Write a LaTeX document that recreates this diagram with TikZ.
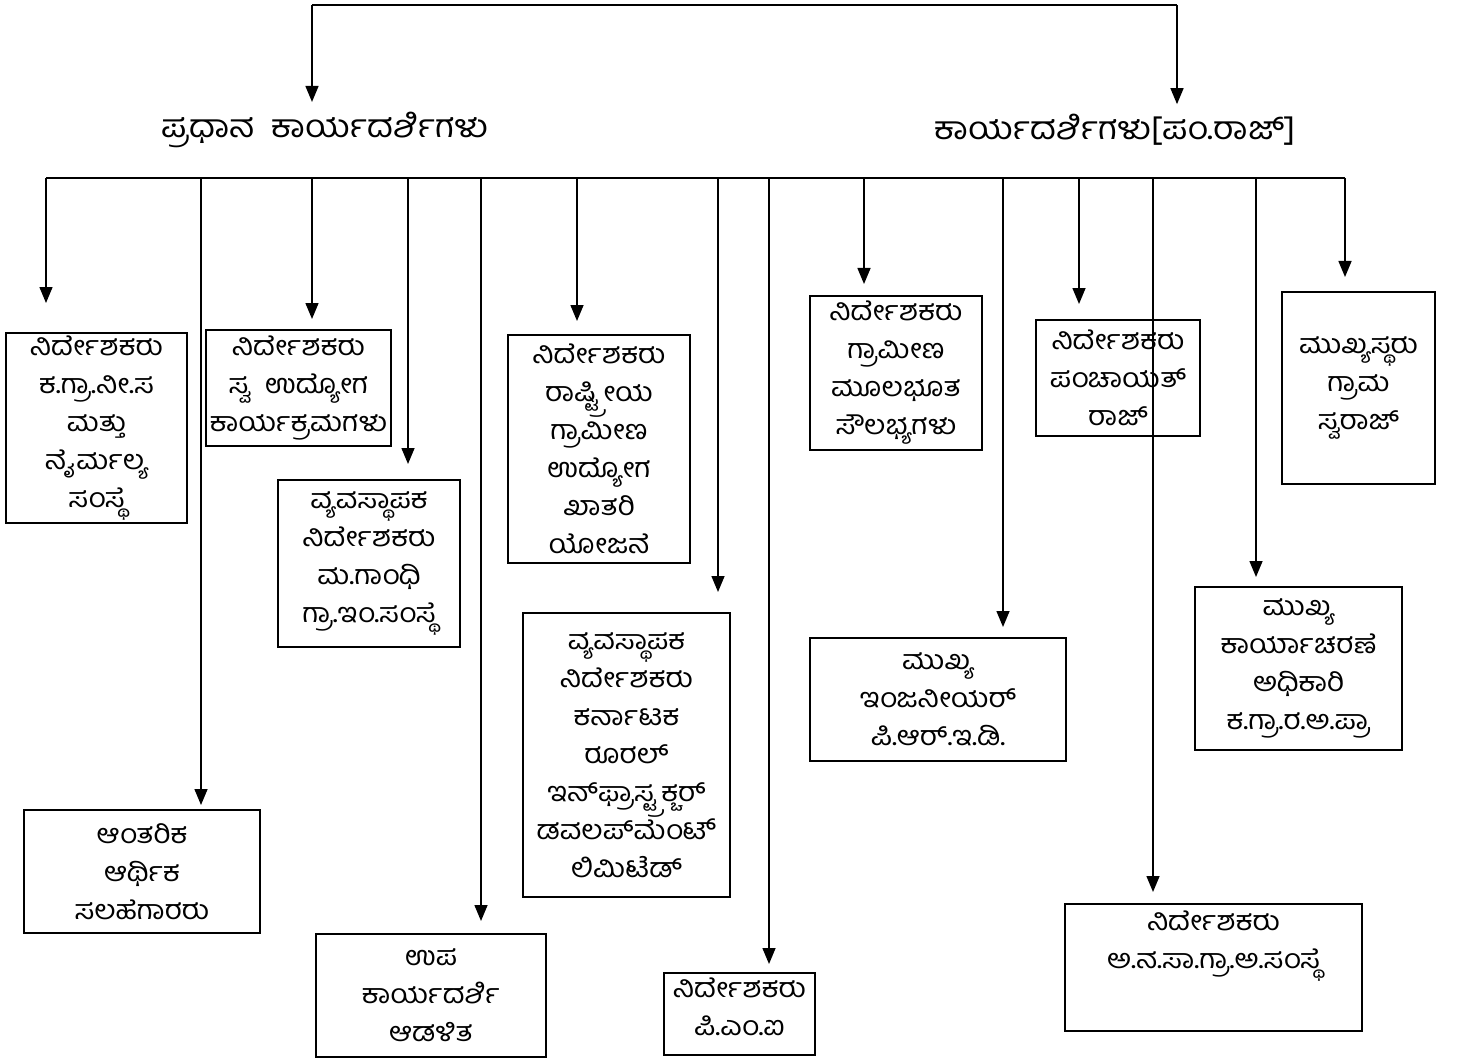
\documentclass[tikz,border=0pt]{standalone}
\usepackage{fontspec}
\newfontfamily\kan[Script=Kannada, FakeStretch=1.1]{Hind Mysuru}
\usepackage{tikz}
\usetikzlibrary{arrows.meta}
\usetikzlibrary{positioning}
\tikzset{>={Triangle[length=16pt,width=13pt]}}
\tikzstyle{unit} = [rectangle, draw=black, line width=2pt, align=center, inner sep=0pt, font=\kan\fontsize{27}{38}\selectfont]
\tikzstyle{head} = [draw=none, inner sep=0pt, font=\kan\fontsize{32}{38}\selectfont]
\tikzstyle{conn} = [->, draw=black, line width=1.5pt]

\begin{document}
\begin{tikzpicture}[x=1pt, y=-1pt]
\useasboundingbox (0,0) rectangle (1458,1059);
% top level
\node [head] (pradhana) at (325,130) {ಪ್ರಧಾನ\ \ ಕಾರ್ಯದರ್ಶಿಗಳು};
\node [head] (karya) at (1115,130) {ಕಾರ್ಯದರ್ಶಿಗಳು[ಪಂ.ರಾಜ್]};
\coordinate (top-l) at (312,5);
\coordinate (top-r) at (1177,5);
\draw [line width=2pt] (top-l) -- (top-r);
\draw [conn, shorten >=10pt] (top-l) -- (top-l |- pradhana.north);
\draw [conn, shorten >=10pt] (top-r) -- (top-r |- karya.north);
% boxes
\node [unit, minimum width=181pt, minimum height=190pt] (kgn) at (96.5,428) {ನಿರ್ದೇಶಕರು\\ಕ.ಗ್ರಾ.ನೀ.ಸ\\ಮತ್ತು\\ನೈರ್ಮಲ್ಯ\\ಸಂಸ್ಥೆ};
\node [unit, minimum width=185pt, minimum height=116pt] (swa) at (298.5,388) {ನಿರ್ದೇಶಕರು\\ಸ್ವ\ \ ಉದ್ಯೋಗ\\ಕಾರ್ಯಕ್ರಮಗಳು};
\node [unit, minimum width=182pt, minimum height=167pt] (mgn) at (369,563.5) {ವ್ಯವಸ್ಥಾಪಕ\\ನಿರ್ದೇಶಕರು\\ಮ.ಗಾಂಧಿ\\ಗ್ರಾ.ಇಂ.ಸಂಸ್ಥೆ};
\node [unit, minimum width=182pt, minimum height=228pt] (nrega) at (599,449) {ನಿರ್ದೇಶಕರು\\ರಾಷ್ಟ್ರೀಯ\\ಗ್ರಾಮೀಣ\\ಉದ್ಯೋಗ\\ಖಾತರಿ\\ಯೋಜನೆ};
\node [unit, minimum width=207pt, minimum height=284pt] (krid) at (626.5,755) {ವ್ಯವಸ್ಥಾಪಕ\\ನಿರ್ದೇಶಕರು\\ಕರ್ನಾಟಕ\\ರೂರಲ್\\ಇನ್‌ಫ್ರಾಸ್ಟ್ರಕ್ಚರ್\\ಡವಲಪ್‌ಮೆಂಟ್\\ಲಿಮಿಟೆಡ್};
\node [unit, minimum width=172pt, minimum height=154pt] (moola) at (896,373) {ನಿರ್ದೇಶಕರು\\ಗ್ರಾಮೀಣ\\ಮೂಲಭೂತ\\ಸೌಲಭ್ಯಗಳು};
\node [unit, minimum width=164pt, minimum height=116pt] (panch) at (1118,378) {ನಿರ್ದೇಶಕರು\\ಪಂಚಾಯತ್\\ರಾಜ್};
\node [unit, minimum width=153pt, minimum height=192pt] (swaraj) at (1358.5,388) {ಮುಖ್ಯಸ್ಥರು\\ಗ್ರಾಮ\\ಸ್ವರಾಜ್};
\node [unit, minimum width=236pt, minimum height=123pt] (aant) at (142,871.5) {ಆಂತರಿಕ\\ಆರ್ಥಿಕ\\ಸಲಹೆಗಾರರು};
\node [unit, minimum width=230pt, minimum height=123pt] (upa) at (431,995.5) {ಉಪ\\ಕಾರ್ಯದರ್ಶಿ\\ಆಡಳಿತ};
\node [unit, minimum width=151pt, minimum height=82pt, text depth=14pt] (pmi) at (739.5,1014) {ನಿರ್ದೇಶಕರು\\ಪಿ.ಎಂ.ಐ};
\node [unit, minimum width=256pt, minimum height=123pt] (pred) at (938,699.5) {ಮುಖ್ಯ\\ಇಂಜನೀಯರ್\\ಪಿ.ಆರ್.ಇ.ಡಿ.};
\node [unit, minimum width=207pt, minimum height=163pt] (kgra) at (1298.5,668.5) {ಮುಖ್ಯ\\ಕಾರ್ಯಾಚರಣೆ\\ಅಧಿಕಾರಿ\\ಕ.ಗ್ರಾ.ರ.ಅ.ಪ್ರಾ};
\node [unit, minimum width=297pt, minimum height=127pt, text depth=55pt] (ansa) at (1213.5,967.5) {ನಿರ್ದೇಶಕರು\\ಅ.ನ.ಸಾ.ಗ್ರಾ.ಅ.ಸಂಸ್ಥೆ};
% bus and drops
\foreach \x/\b/\g in {46/kgn/29, 201/aant/4, 312/swa/10, 408/mgn/15, 481/upa/12, 577/nrega/13, 718/krid/20, 769/pmi/8, 864/moola/11, 1003/pred/10, 1079/panch/15, 1153/ansa/11, 1256/kgra/9, 1345/swaraj/14}
{
\coordinate (bus-\b) at (\x,178);
\draw [conn, shorten >=\g pt] (bus-\b) -- (bus-\b |- \b.north);
}
\draw [line width=2pt] (bus-kgn) -- (bus-swaraj);
\end{tikzpicture}
\end{document}
